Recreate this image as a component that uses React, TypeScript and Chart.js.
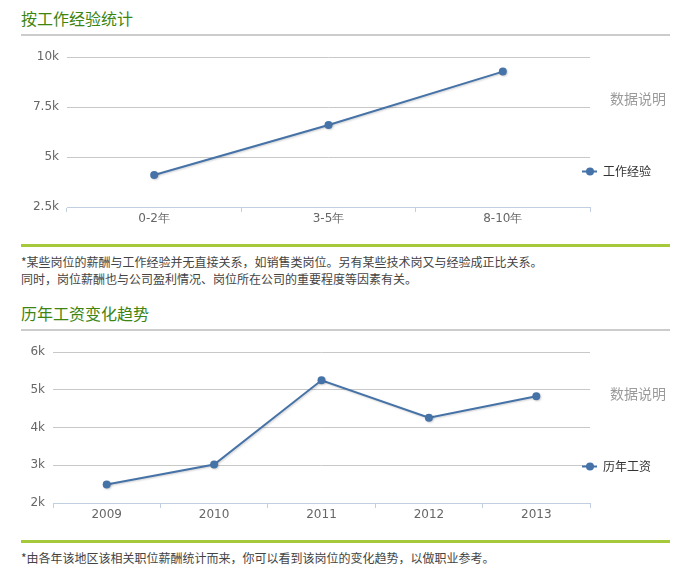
import React, { useEffect, useRef } from 'react';
import { Chart, registerables } from 'chart.js';

Chart.register(...registerables);

// ---- data ----
const expCategories = ['0-2年', '3-5年', '8-10年'];
const expValues = [4100, 6600, 9270];
const expSeriesName = '工作经验';
const expTickMin = 2500;
const expTickMax = 10000;
const expTickStep = 2500;

const yearCategories = ['2009', '2010', '2011', '2012', '2013'];
const yearValues = [2490, 3020, 5250, 4260, 4830];
const yearSeriesName = '历年工资';
const yearTickMin = 2000;
const yearTickMax = 6000;
const yearTickStep = 1000;

const legendTitle = '数据说明';

const CJK = '"Noto Sans CJK SC", "Microsoft YaHei", sans-serif';
const NUM = '"DejaVu Sans", Verdana, sans-serif';
const LINE_COLOR = '#4572A7';

const sideLegendPlugin = {
  id: 'sideLegend',
  afterDraw(chart: any, _args: any, opts: any) {
    const ctx = chart.ctx;
    const area = chart.chartArea;
    ctx.save();
    // title
    ctx.font = `14px ${CJK}`;
    ctx.fillStyle = '#9a9a9a';
    ctx.textAlign = 'left';
    ctx.textBaseline = 'middle';
    ctx.fillText(opts.title, opts.x + 20, area.top + 41.5);
    // item
    const y = area.top + 114.5;
    ctx.strokeStyle = LINE_COLOR;
    ctx.lineWidth = 2;
    ctx.beginPath();
    ctx.moveTo(opts.x - 8, y);
    ctx.lineTo(opts.x + 7, y);
    ctx.stroke();
    ctx.fillStyle = LINE_COLOR;
    ctx.beginPath();
    ctx.arc(opts.x, y, 4, 0, Math.PI * 2);
    ctx.fill();
    ctx.font = `12px ${CJK}`;
    ctx.fillStyle = '#333';
    ctx.fillText(opts.label, opts.x + 13, y);
    ctx.restore();
  },
};

const shadowPlugin = {
  id: 'lineShadow',
  beforeDatasetDraw(chart: any) {
    const ctx = chart.ctx;
    ctx.save();
    ctx.shadowColor = 'rgba(0,0,0,0.18)';
    ctx.shadowBlur = 2;
    ctx.shadowOffsetX = 1;
    ctx.shadowOffsetY = 1;
  },
  afterDatasetDraw(chart: any) {
    chart.ctx.restore();
  },
};

type LineProps = {
  categories: string[];
  values: number[];
  name: string;
  min: number;
  max: number;
  step: number;
  top: number;
  height: number;
  yWidth: number;
  padTop: number;
  padBottom: number;
};

function LineChart(p: LineProps) {
  const ref = useRef<HTMLCanvasElement | null>(null);
  useEffect(() => {
    if (!ref.current) return;
    const chart = new Chart(ref.current, {
      type: 'line',
      data: {
        labels: p.categories,
        datasets: [
          {
            label: p.name,
            data: p.values,
            borderColor: LINE_COLOR,
            backgroundColor: LINE_COLOR,
            borderWidth: 2,
            pointRadius: 4,
            pointBorderWidth: 0,
            pointBackgroundColor: LINE_COLOR,
            tension: 0,
            fill: false,
          },
        ],
      },
      options: {
        animation: false,
        responsive: true,
        maintainAspectRatio: false,
        layout: { padding: { left: 0, right: 99, top: p.padTop, bottom: p.padBottom } },
        plugins: {
          legend: { display: false },
          tooltip: { enabled: false },
          sideLegend: { title: legendTitle, label: p.name, x: 590 },
        } as any,
        scales: {
          x: {
            type: 'category',
            offset: true,
            grid: {
              offset: true,
              drawOnChartArea: false,
              drawTicks: true,
              tickLength: 5,
              color: '#C0D0E0',
            },
            border: { color: '#C0D0E0', width: 1 },
            ticks: { color: '#666', font: { family: NUM, size: 12 }, padding: 0, maxRotation: 0 },
            afterFit: (s: any) => {
              s.height = 20;
            },
          },
          y: {
            min: p.min,
            max: p.max,
            grid: { color: '#C8C8C8', drawTicks: false },
            border: { display: false },
            ticks: {
              stepSize: p.step,
              color: '#666',
              font: { family: NUM, size: 12 },
              padding: 8,
              callback: (v: any) => `${Number(v) / 1000}k`,
            },
            afterFit: (s: any) => {
              s.width = p.yWidth;
            },
          },
        },
      },
      plugins: [sideLegendPlugin, shadowPlugin],
    });
    return () => chart.destroy();
  }, []);
  return (
    <div style={{ position: 'absolute', left: 0, top: p.top, width: 689, height: p.height }}>
      <canvas ref={ref} />
    </div>
  );
}

const headingStyle: React.CSSProperties = {
  position: 'absolute',
  left: 21,
  fontFamily: CJK,
  fontSize: 16,
  lineHeight: '16px',
  color: '#3d8510',
  margin: 0,
  whiteSpace: 'nowrap',
};
const grayRule: React.CSSProperties = {
  position: 'absolute',
  left: 21,
  width: 649,
  height: 2,
  background: '#cccccc',
};
const greenRule: React.CSSProperties = {
  position: 'absolute',
  left: 21,
  width: 649,
  height: 3,
  background: '#a6c93c',
};
const noteStyle: React.CSSProperties = {
  position: 'absolute',
  left: 21,
  fontFamily: CJK,
  fontSize: 12,
  lineHeight: '17px',
  color: '#444',
  whiteSpace: 'nowrap',
};

export default function App() {
  return (
    <div
      style={{
        position: 'fixed',
        left: 0,
        top: 0,
        width: 689,
        height: 574,
        background: '#fff',
        overflow: 'hidden',
      }}
    >
      <div style={{ ...headingStyle, top: 10 }}>按工作经验统计</div>
      <div style={{ ...grayRule, top: 34 }} />
      <LineChart
        categories={expCategories}
        values={expValues}
        name={expSeriesName}
        min={expTickMin}
        max={expTickMax}
        step={expTickStep}
        top={40}
        height={190}
        yWidth={67}
        padTop={17}
        padBottom={3}
      />
      <div style={{ ...greenRule, top: 244 }} />
      <div style={{ ...noteStyle, top: 253 }}>
        *某些岗位的薪酬与工作经验并无直接关系，如销售类岗位。另有某些技术岗又与经验成正比关系。
        <br />
        同时，岗位薪酬也与公司盈利情况、岗位所在公司的重要程度等因素有关。
      </div>
      <div style={{ ...headingStyle, top: 305 }}>历年工资变化趋势</div>
      <div style={{ ...grayRule, top: 329 }} />
      <LineChart
        categories={yearCategories}
        values={yearValues}
        name={yearSeriesName}
        min={yearTickMin}
        max={yearTickMax}
        step={yearTickStep}
        top={335}
        height={190}
        yWidth={53}
        padTop={17}
        padBottom={2}
      />
      <div style={{ ...greenRule, top: 540 }} />
      <div style={{ ...noteStyle, top: 549 }}>
        *由各年该地区该相关职位薪酬统计而来，你可以看到该岗位的变化趋势，以做职业参考。
      </div>
    </div>
  );
}
